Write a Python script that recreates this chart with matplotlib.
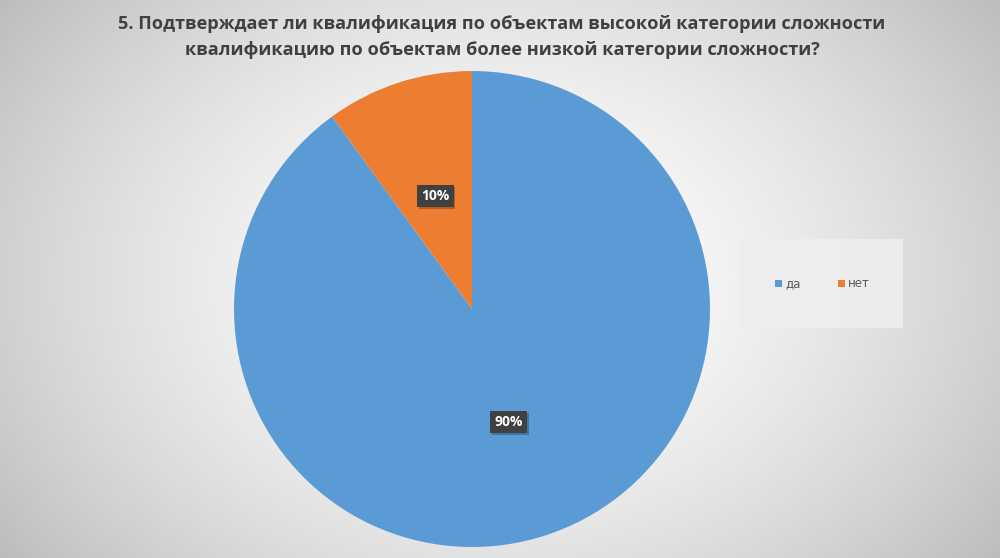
import numpy as np
import matplotlib
matplotlib.use("Agg")
import matplotlib.pyplot as plt
from matplotlib.patches import Rectangle

plt.rcParams['font.family'] = ['Open Sans', 'DejaVu Sans']

title = ("5. Подтверждает ли квалификация по объектам высокой категории сложности\n"
         "квалификацию по объектам более низкой категории сложности?")
labels = ["да", "нет"]
values = [90, 10]
colors = ["#5B9BD5", "#ED7D31"]

fig = plt.figure(figsize=(10, 5.58), dpi=100)

# radial gradient background
bg = fig.add_axes([0, 0, 1, 1])
yy, xx = np.mgrid[0:558, 0:1000]
d = np.sqrt(((xx - 500) / 560.0) ** 2 + ((yy - 279) / 420.0) ** 2)
shade = 1.0 - 0.22 * np.clip(d, 0, 1.2) ** 1.6
img = np.dstack([shade, shade, shade])
bg.imshow(img, aspect='auto', extent=[0, 1, 0, 1])
bg.set_xlim(0, 1)
bg.set_ylim(0, 1)
bg.axis('off')

# legend box
bg.add_patch(Rectangle((739 / 1000, 1 - 328 / 558), 164 / 1000, 89 / 558,
                       facecolor="#eeeeee", edgecolor="none", alpha=0.9))

ax = fig.add_axes([0.234, 0.0197, 0.476, 0.853])
wedges, texts = ax.pie(values, colors=colors, startangle=90, counterclock=False,
                       radius=1.0, wedgeprops=dict(linewidth=0))
for w, v in zip(wedges, values):
    ang = np.deg2rad((w.theta1 + w.theta2) / 2)
    x, y = 0.5 * np.cos(ang), 0.5 * np.sin(ang)
    # little drop shadow behind the label
    ax.text(x + 0.008, y - 0.008, f"{v}%", ha='center', va='center', color='#404040',
            fontsize=10, fontweight='bold', alpha=0.35,
            bbox=dict(boxstyle='square,pad=0.3', facecolor='#000000', edgecolor='none', alpha=0.25))
    ax.text(x, y, f"{v}%", ha='center', va='center', color='white',
            fontsize=10, fontweight='bold',
            bbox=dict(boxstyle='square,pad=0.3', facecolor='#404040', edgecolor='none'))
ax.set_xlim(-1, 1)
ax.set_ylim(-1, 1)
ax.set_aspect('equal')
ax.axis('off')

fig.text(0.502, 1 - 37 / 558, title, ha='center', va='center', fontsize=13.1,
         fontweight='bold', color='#404040', linespacing=1.6)

# legend entries
for lab, col, xpx in zip(labels, colors, [775, 838]):
    bg.add_patch(Rectangle((xpx / 1000, 1 - 287 / 558), 7 / 1000, 7 / 558,
                           facecolor=col, edgecolor='none'))
    bg.text((xpx + 10) / 1000, 1 - 283.5 / 558, lab, fontsize=8.5, color='#595959',
            ha='left', va='center', family=['DejaVu Sans'])

fig.savefig("out.png", dpi=100)
